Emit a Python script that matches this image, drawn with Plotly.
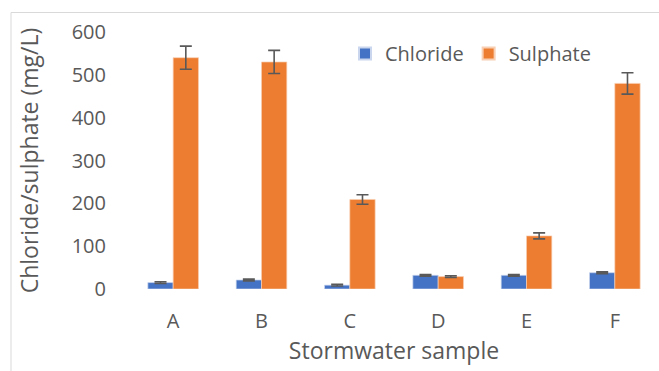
import plotly.graph_objects as go

samples = ["A", "B", "C", "D", "E", "F"]
chloride = [15, 21, 9, 32, 32, 38]
chloride_err = [2, 2, 2, 2, 2, 2]
sulphate = [540, 530, 209, 29, 124, 480]
sulphate_err = [27, 27, 11, 2, 7, 25]

W, H = 659, 371
ML, MR, MT, MB = 129, 0, 32, 82
FONT = "Open Sans"
GREY = "#595959"

fig = go.Figure()
fig.add_trace(go.Bar(
    x=samples, y=chloride, name="Chloride",
    marker=dict(color="#4472C4", line=dict(color="#c9d6ee", width=0.7)),
    error_y=dict(type="data", array=chloride_err, color=GREY, thickness=1.6, width=6),
))
fig.add_trace(go.Bar(
    x=samples, y=sulphate, name="Sulphate",
    marker=dict(color="#ED7D31", line=dict(color="#f8cfb3", width=0.7)),
    error_y=dict(type="data", array=sulphate_err, color=GREY, thickness=1.6, width=6),
))

pw = W - ML - MR
ph = H - MT - MB
def px(x):
    return (x - ML) / pw
def py(y):
    return (H - MB - y) / ph

fig.update_layout(
    width=W, height=H,
    margin=dict(l=ML, r=MR, t=MT, b=MB, pad=0),
    paper_bgcolor="white", plot_bgcolor="white",
    font=dict(family=FONT, size=20, color=GREY),
    barmode="group", bargap=0.427, bargroupgap=0,
    showlegend=True,
    legend=dict(orientation="h", x=px(345), y=py(53.5), xanchor="left", yanchor="middle",
                font=dict(size=20, color=GREY), bgcolor="rgba(0,0,0,0)",
                itemsizing="constant", traceorder="normal", itemwidth=30),
    xaxis=dict(
        range=[-0.5, 5.5], showgrid=False, showline=False, zeroline=False,
        ticks="", ticklabelstandoff=18,
        tickfont=dict(size=20, color=GREY),
        title=dict(text="Stormwater sample", font=dict(size=23, color=GREY), standoff=8),
    ),
    yaxis=dict(
        range=[0, 600], dtick=100, showgrid=False, showline=False, zeroline=False,
        ticks="", ticklabelstandoff=22,
        tickfont=dict(size=20, color=GREY),
        title=dict(text="Chloride/sulphate (mg/L)", font=dict(size=23, color=GREY), standoff=26),
    ),
    shapes=[
        dict(type="line", xref="paper", yref="paper", x0=px(11), x1=px(W), y0=py(12.5), y1=py(12.5),
             line=dict(color="#d9d9d9", width=1)),
        dict(type="line", xref="paper", yref="paper", x0=px(11), x1=px(11), y0=py(12.5), y1=py(H),
             line=dict(color="#d9d9d9", width=1)),
    ],
)

fig.write_html("out.html")
